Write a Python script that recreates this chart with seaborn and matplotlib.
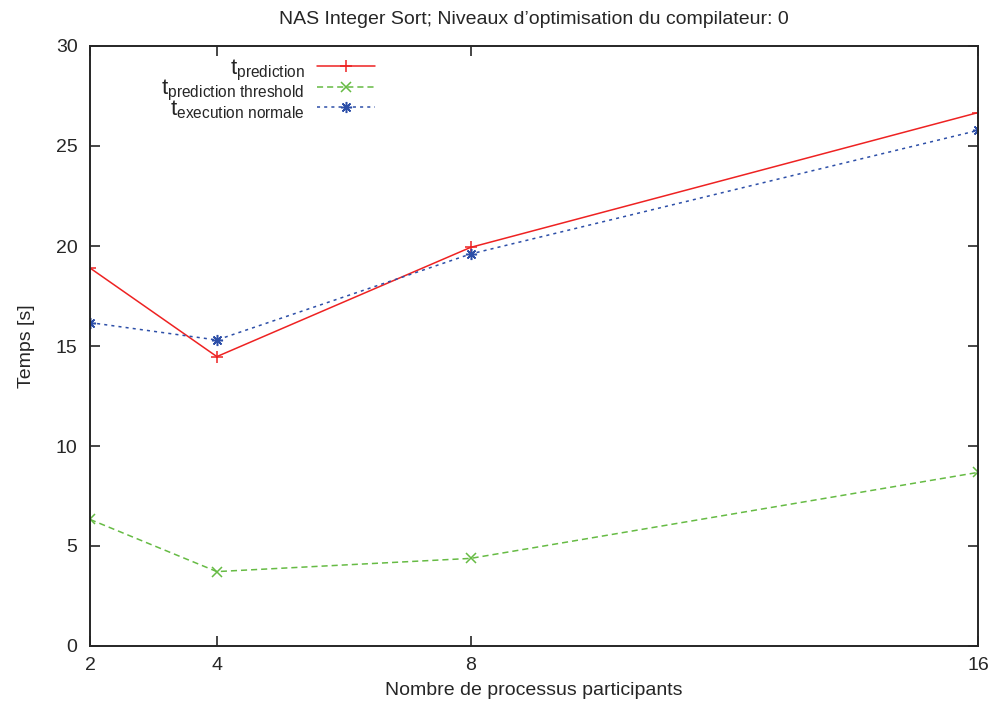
import matplotlib
matplotlib.use("Agg")
import matplotlib.pyplot as plt
import seaborn as sns
import pandas as pd

# Benchmark results: NAS Integer Sort, compiler optimisation level 0
processes = [2, 4, 8, 16]
t_prediction = [18.9, 14.47, 19.93, 26.67]
t_prediction_threshold = [6.33, 3.72, 4.38, 8.68]
t_execution_normale = [16.17, 15.3, 19.6, 25.78]
x_ticks = [2, 4, 8, 16]
y_ticks = [0, 5, 10, 15, 20, 25, 30]

sns.set_style("ticks")
plt.rcParams["font.family"] = ["Liberation Sans", "DejaVu Sans"]
plt.rcParams["mathtext.fontset"] = "custom"
plt.rcParams["mathtext.rm"] = "Liberation Sans"
plt.rcParams["mathtext.it"] = "Liberation Sans"
plt.rcParams["mathtext.default"] = "regular"

FS = 14

df = pd.DataFrame({
    "p": processes,
    "pred": t_prediction,
    "thr": t_prediction_threshold,
    "norm": t_execution_normale,
})

fig = plt.figure(figsize=(9.98, 7.06), dpi=100)
ax = fig.add_axes([90 / 998, 1 - 646 / 706, 888 / 998, 600 / 706])

red, green, blue = "#ee2222", "#66bb44", "#2d4fa8"
sns.lineplot(data=df, x="p", y="pred", ax=ax, color=red, linewidth=1.1,
             marker="+", markersize=8, markeredgewidth=1.1, markeredgecolor=red,
             label=r"$t_{prediction}$")
sns.lineplot(data=df, x="p", y="thr", ax=ax, color=green, linewidth=1.1,
             linestyle=(0, (4, 2.6)), marker="x", markersize=6.5,
             markeredgewidth=1.1, markeredgecolor=green,
             label=r"$t_{prediction\ threshold}$")
sns.lineplot(data=df, x="p", y="norm", ax=ax, color=blue, linewidth=1.1,
             linestyle=(0, (2, 2.7)), marker=(8, 2, 0), markersize=8,
             markeredgewidth=1.1, markeredgecolor=blue,
             label=r"$t_{execution\ normale}$")

ax.set_xlim(2, 16)
ax.set_ylim(0, 30)
ax.set_xticks(x_ticks)
ax.set_xticklabels([str(v) for v in x_ticks])
ax.set_yticks(y_ticks)
ax.set_yticklabels([str(v) for v in y_ticks])
ax.tick_params(direction="in", length=7, width=1.2, labelsize=FS,
               top=True, right=True)
ax.tick_params(axis="y", pad=9)
ax.tick_params(axis="x", pad=8)
for s in ax.spines.values():
    s.set_linewidth(1.4)
    s.set_visible(True)

ax.set_xlabel("Nombre de processus participants", fontsize=FS, labelpad=6)
ax.set_ylabel("Temps [s]", fontsize=FS, labelpad=15)
ax.set_title("NAS Integer Sort; Niveaux d\u2019optimisation du compilateur: 0",
             fontsize=FS, pad=16)

leg = ax.legend(loc="upper right", bbox_to_anchor=(0.333, 0.999), frameon=False,
                markerfirst=False, fontsize=16, handlelength=2.6,
                handletextpad=0.55, labelspacing=-0.22, borderpad=0)

fig.savefig("out.png", dpi=100, facecolor="white")
